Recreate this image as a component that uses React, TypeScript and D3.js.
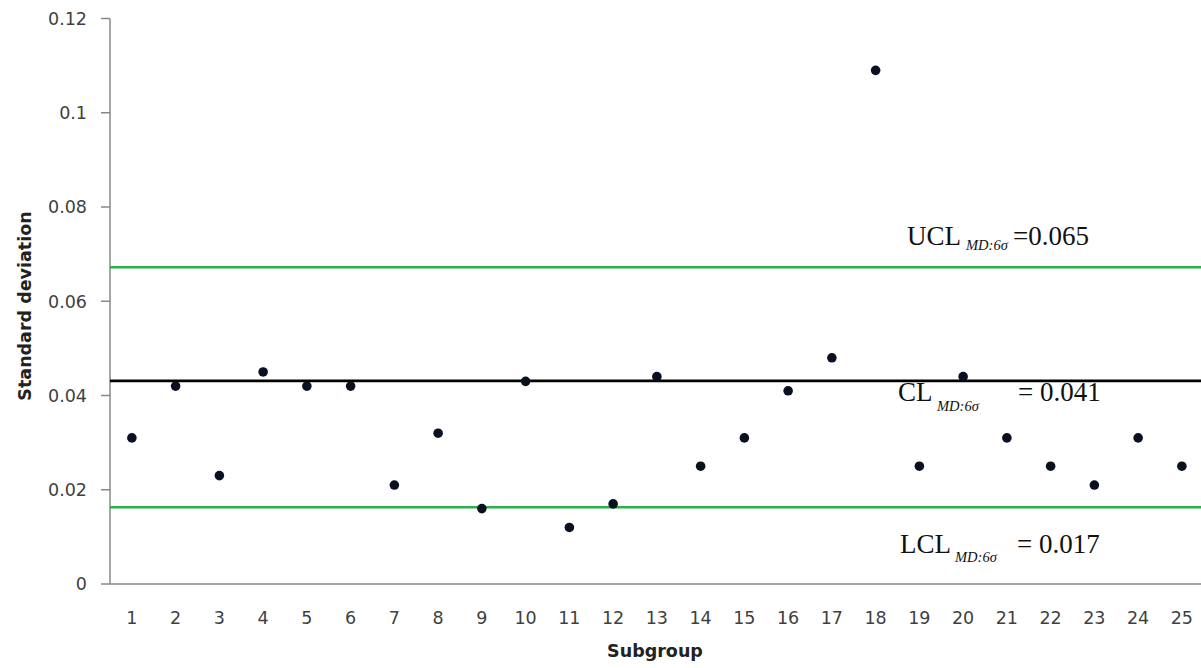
import React from "react";
import * as d3 from "d3";

const subgroups = [
  "1","2","3","4","5","6","7","8","9","10","11","12","13","14","15","16","17","18","19","20","21","22","23","24","25",
];
const stdValues = [
  0.031, 0.042, 0.023, 0.045, 0.042, 0.042, 0.021, 0.032, 0.016, 0.043, 0.012, 0.017, 0.044,
  0.025, 0.031, 0.041, 0.048, 0.109, 0.025, 0.044, 0.031, 0.025, 0.021, 0.031, 0.025,
];
const yTicks = [0, 0.02, 0.04, 0.06, 0.08, 0.1, 0.12];
const yTickLabels = ["0", "0.02", "0.04", "0.06", "0.08", "0.1", "0.12"];
const controlLines = [
  { name: "UCL", value: 0.0672, label: "0.065", eq: "=", color: "#2bb04a", dy: -22 },
  { name: "CL", value: 0.0431, label: "0.041", eq: "= ", color: "#000000", dy: 20.5 },
  { name: "LCL", value: 0.0163, label: "0.017", eq: "= ", color: "#2bb04a", dy: 46 },
];

const W = 1201;
const H = 668;
const left = 110;
const bottom = 584;
const top = 18.5;
const step = 43.75;

export default function App() {
  const x = d3
    .scaleBand<string>()
    .domain(subgroups)
    .range([left, left + step * subgroups.length])
    .padding(0);
  const y = d3.scaleLinear().domain([0, 0.12]).range([bottom, top]);
  const cx = (s: string) => (x(s) as number) + x.bandwidth() / 2;

  const labelPos: Record<string, { x: number; sx: number; ex: number; sdy: number }> = {
    UCL: { x: 907, sx: 966, ex: 1013, sdy: 5 },
    CL: { x: 898, sx: 937, ex: 1018, sdy: 10 },
    LCL: { x: 900, sx: 955, ex: 1017, sdy: 9 },
  };

  const tickFont = "'DejaVu Sans', sans-serif";

  return (
    <svg
      width={W}
      height={H}
      style={{ position: "absolute", left: 0, top: 0, background: "#fff" }}
    >
      <rect x={0} y={0} width={W} height={H} fill="#fff" />
      {/* axes */}
      <line x1={left} y1={top} x2={left} y2={bottom} stroke="#888888" strokeWidth={1.5} />
      <line x1={left} y1={bottom} x2={W} y2={bottom} stroke="#888888" strokeWidth={1.5} />
      {yTicks.map((t, i) => (
        <g key={t}>
          <line x1={left - 9} x2={left} y1={y(t)} y2={y(t)} stroke="#888888" strokeWidth={1.5} />
          <text
            x={87}
            y={y(t)}
            dy="0.36em"
            textAnchor="end"
            fontFamily={tickFont}
            fontSize={17.5}
            fill="#3f3f3f"
          >
            {yTickLabels[i]}
          </text>
        </g>
      ))}
      {subgroups.map((s) => (
        <text
          key={s}
          x={cx(s)}
          y={623.5}
          textAnchor="middle"
          fontFamily={tickFont}
          fontSize={17.5}
          fill="#3f3f3f"
        >
          {s}
        </text>
      ))}
      {/* control lines */}
      {controlLines.map((c) => (
        <line
          key={c.name}
          x1={left}
          x2={W}
          y1={y(c.value)}
          y2={y(c.value)}
          stroke={c.color}
          strokeWidth={2.6}
        />
      ))}
      {/* points */}
      {stdValues.map((v, i) => (
        <circle key={i} cx={cx(subgroups[i])} cy={y(v)} r={4.8} fill="#0b1020" />
      ))}
      {/* control line labels */}
      {controlLines.map((c) => {
        const p = labelPos[c.name];
        const by = y(c.value) + c.dy;
        return (
          <g key={c.name} fontFamily="'Liberation Serif', 'Times New Roman', serif" fill="#111">
            <text x={p.x} y={by} fontSize={27}>
              {c.name}
            </text>
            <text x={p.sx} y={by + p.sdy} fontSize={14.5} fontStyle="italic">
              MD:6σ
            </text>
            <text x={p.ex} y={by} fontSize={27}>
              {c.eq + c.label}
            </text>
          </g>
        );
      })}
      {/* axis titles */}
      <text
        x={655}
        y={657}
        textAnchor="middle"
        fontFamily={tickFont}
        fontWeight="bold"
        fontSize={17.5}
        fill="#222"
      >
        Subgroup
      </text>
      <text
        transform={`translate(31, 306) rotate(-90)`}
        textAnchor="middle"
        fontFamily={tickFont}
        fontWeight="bold"
        fontSize={17.5}
        fill="#222"
      >
        Standard deviation
      </text>
    </svg>
  );
}
